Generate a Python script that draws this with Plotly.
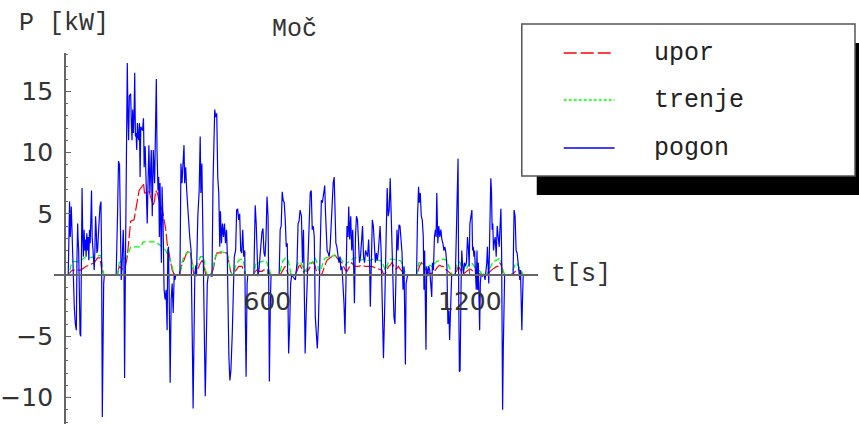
import plotly.graph_objects as go

# ---------------- data (t in s, P in kW) ----------------
pogon_t = [
    0, 10, 14, 16, 19, 22, 24, 26, 28, 31,
    34, 36, 38, 39, 41, 43, 45, 47, 49, 51,
    53, 55, 57, 59, 61, 63, 65, 67, 69, 71,
    73, 75, 77, 79, 81, 84, 87, 89, 91, 93,
    95, 97, 99, 102, 104, 107, 109, 111, 113, 115,
    117, 152, 156, 159, 162, 164, 167, 169, 171, 173,
    175, 177, 179, 181, 183, 185, 187, 189, 191, 193,
    195, 197, 199, 201, 203, 205, 207, 209, 211, 213,
    215, 217, 219, 221, 223,
    225, 230, 233, 235, 238, 241, 244, 246, 249, 252,
    256, 259, 262, 266, 269, 271, 273, 276, 278, 280,
    282, 286, 288, 291, 294, 297, 300, 303, 305, 307,
    309, 312, 315, 318, 321, 324, 326, 329, 341, 344,
    347, 350, 353, 355, 358, 361, 364, 367, 370, 374,
    376, 378, 380, 382, 385, 388, 390, 394, 398, 401,
    403, 406, 409, 411, 414, 416, 419, 422, 425, 436,
    439, 442, 444, 447, 450, 453, 456, 459,
    461, 464, 467, 470, 473, 476, 479, 481, 483, 486,
    489, 492, 496, 498, 502, 506, 509, 512, 515, 518,
    521, 524, 527, 530, 533, 535, 537, 540, 542, 560,
    563, 564, 567, 570, 572, 575, 578, 581, 584, 587,
    590, 593, 596, 599, 602, 604, 606, 609, 611, 635,
    638, 641, 644, 647, 650, 653, 656, 659, 661, 663,
    666, 669, 672, 683, 688, 691, 694, 697,
    701, 704, 707, 709, 712, 715, 718, 721, 724, 727,
    730, 733, 736, 739, 742, 745, 748, 751, 754, 757,
    760, 763, 767, 770, 772, 774, 777, 780, 783, 786,
    789, 792, 795, 798, 800, 803, 806, 809, 812, 815,
    818, 821, 824, 827, 830, 833, 836, 839, 841, 844,
    847, 850, 853, 856, 858, 861, 864, 867, 870, 873,
    876, 879, 882, 885, 888, 891, 894, 897, 900, 903,
    905, 908, 911, 914, 917, 920, 923, 926, 929, 932,
    934, 937, 939, 942, 944, 947, 950, 953, 955, 958,
    961, 964, 967, 970, 972, 975, 978, 981, 984, 987,
    990, 993, 996, 999, 1002, 1005, 1007, 1009, 1011, 1015,
    1019, 1042, 1045, 1048, 1050, 1053, 1056, 1059, 1062, 1064,
    1066, 1068, 1070, 1072, 1075, 1078, 1081, 1084, 1087, 1089,
    1092, 1095, 1098, 1100, 1102, 1105, 1108, 1111, 1114, 1117,
    1120, 1123, 1126, 1129, 1132, 1135, 1138, 1140, 1143, 1146,
    1149, 1157, 1160, 1163, 1165, 1167, 1169,
    1171, 1174, 1176, 1178, 1181, 1184, 1187, 1190, 1193, 1196,
    1198, 1200, 1203, 1206, 1208, 1210, 1212, 1214, 1217, 1219,
    1221, 1223, 1225, 1227, 1229, 1231, 1233, 1238, 1242, 1245,
    1247, 1250, 1252, 1254, 1256, 1258, 1260, 1262, 1264, 1266,
    1268, 1270, 1272, 1275, 1278, 1281, 1284, 1287, 1289, 1292,
    1294, 1296, 1297, 1299, 1301, 1303, 1328, 1331, 1334, 1337,
    1340, 1343, 1346, 1348, 1350, 1352, 1354, 1356, 1358,
]
pogon_p = [
    0, 0, 6.0, 3.1, 5.6, 3.1, -0.1, -0.4, -2.6, -4.0,
    -4.5, 1.5, 4.2, 3.1, 2.0, -3.4, -4.8, -5.0, -0.7, 7.1,
    3.1, 1.5, 3.7, 2.0, 2.9, 1.5, 3.4, 2.0, 3.1, 1.2,
    3.7, 2.6, 4.5, 6.9, 3.1, 2.0, 0.4, 2.0, 4.8, 3.7,
    1.8, 2.0, 3.1, 5.0, 5.6, 6.0, 1.0, -11.6, -4.8, -0.7,
    0, 0, 4.8, 9.3, 9.0, 2.6, -0.4, 0.4, 3.1, 3.7,
    1.5, -8.4, -0.7, 6.1, 12.1, 17.3, 12.9, 11.0, 14.6, 14.7,
    14.8, 12.4, 11.0, 13.5, 11.6, 12.9, 16.5, 11.3, 11.6, 10.2,
    12.4, 11.3, 11.0, 12.4, 8.0,
    12.1, 11.8, 12.8, 8.8, 10.5, 8.0, 4.2, 6.9, 10.6, 6.7,
    10.2, 4.8, 10.2, 7.5, 13.7, 16.0, 10.2, 6.9, 8.0, 3.1,
    7.5, 1.0, 7.2, 4.2, -1.2, -2.0, -1.2, -4.5, 2.0, 2.3,
    -1.2, -8.8, -2.0, -0.7, -3.1, 0.1, -0.4, 0, 0, 9.1,
    7.5, 9.7, 10.6, 7.5, 8.8, 6.9, 5.3, 4.8, 3.1, 2.0,
    -0.7, -6.1, -10.9, -7.2, 0, 0.8, -0.1, 4.8, 6.9, 11.3,
    6.7, 9.1, 3.1, -0.7, -3.4, -9.9, -5.6, -0.7, 0, -0.1,
    7.5, 10.2, 13.5, 12.9, 13.2, 8.0, 6.7, 2.3,
    5.2, 2.6, 4.2, 3.1, 4.2, 2.6, 3.7, 2.0, -2.3, -6.7,
    -8.6, -7.8, -4.8, -2.0, 1.5, 2.0, 5.3, 5.4, 4.5, 5.0,
    2.0, 1.8, 3.7, 1.5, 2.0, -4.0, -8.3, -0.7, 0, 0,
    3.1, 5.7, 4.2, 1.5, -0.1, 0.4, 1.5, 2.9, 3.5, 3.8,
    1.8, 1.5, 3.1, 6.4, 4.8, -0.7, -8.7, -2.0, 0, 0,
    3.7, 4.0, 6.8, 6.1, 5.9, 4.5, 2.3, 2.6, -0.7, -6.4,
    -4.2, -0.7, 0, -0.4, 1.0, 4.2, 4.4, 5.3,
    4.8, 1.0, 3.7, 0.4, -6.4, -3.1, -0.4, 0.7, 3.1, 6.7,
    6.9, 3.7, 4.0, 3.1, -3.4, -5.3, -6.0, -4.2, -1.2, 2.0,
    6.1, 5.9, 6.7, 7.3, 5.3, 3.7, 2.0, 1.8, 1.5, 2.3,
    4.0, 6.7, 7.5, 8.0, 5.0, 2.6, 2.3, 1.5, 1.0, 1.5,
    0.4, 0.7, -0.4, -2.3, -4.8, 1.0, 4.0, 3.1, 5.6, 2.9,
    4.8, 2.0, 3.7, 0.4, -2.3, 3.1, 4.8, 4.5, 3.1, 1.0,
    1.5, 2.9, 4.0, 1.5, 1.0, 2.0, 1.8, 1.5, 2.9, 1.0,
    -2.6, 2.0, 4.5, 4.0, 2.0, 1.0, 1.8, 1.2, 2.0, 3.5,
    4.0, 2.0, -0.7, -6.1, -6.8, -3.4, 1.5, 6.4, 7.1, 4.8,
    5.3, 7.9, 4.8, 1.2, -0.7, -3.4, -4.0, 1.5, 3.7, 2.0,
    4.1, 4.0, 2.6, 1.8, -1.2, 0.7, -3.4, -7.3, -0.7, -0.1,
    0, 0, 4.8, 7.2, 5.9, 6.7, 4.8, 4.5, 3.1, -1.2,
    2.0, -0.7, -6.1, 0.7, -0.1, 0.7, 0.4, -0.7, -1.8, 1.0,
    0.4, 3.1, 3.7, 3.1, 6.7, 2.6, 4.0, 3.1, 3.7, 2.9,
    2.6, 2.0, 2.3, 1.8, 0.7, -4.0, -2.9, -5.3, -1.2, -0.1,
    0, 0, 3.4, 6.9, 9.5, -2.0, -7.9,
    -7.8, -0.7, 2.0, 1.0, 0.1, 1.0, 0.7, 1.0, 3.1, 2.0,
    0.7, 4.2, 5.0, 5.3, 2.0, 2.3, 1.5, 2.0, -0.1, -1.2,
    2.0, -1.2, 1.0, -2.9, -4.5, -0.7, 0, -0.1, 0.1, -0.4,
    0.1, 1.0, 2.3, 1.0, -0.7, 2.0, 5.3, 7.9, 6.9, 3.7,
    4.2, 2.0, 2.6, 3.1, 1.5, 4.0, 3.1, 2.3, 3.7, 5.4,
    2.0, -3.4, -11.0, -6.1, -0.7, 0, 0, 5.3, 4.8, 2.0,
    1.8, 1.0, -0.1, -0.4, 0.4, -1.2, -4.5, -2.0, 0,
]

upor_t = [
    0, 10, 18, 23, 47, 52, 62, 72, 87, 97,
    104, 111, 116, 156, 161, 170, 178, 185, 190, 195,
    205, 210, 215, 220, 225, 228, 233, 236, 244, 249,
    254, 259, 262, 266, 269, 274, 279, 284, 289, 294,
    299, 303, 308, 313, 318, 323, 328, 338, 343, 348,
    353, 358, 363, 372, 377, 382, 387, 392, 397, 402,
    407, 412, 417, 422, 431, 439, 443, 447, 451, 456,
    481, 486, 491, 496, 500, 505, 510, 515, 525, 530,
    535, 560, 564, 569, 574, 584, 589, 599, 604, 609,
    638, 643, 648, 653, 658, 663, 683, 688, 693, 697,
    703, 708, 712, 717, 722, 727, 732, 737, 742, 747,
    752, 757, 762, 767, 772, 776, 786, 791, 796, 801,
    806, 811, 816, 821, 826, 831, 836, 840, 845, 850,
    855, 860, 870, 880, 890, 900, 909, 919, 929, 934,
    939, 944, 949, 954, 959, 964, 969, 973, 978, 983,
    988, 993, 998, 1003, 1008, 1042, 1047, 1052, 1057, 1062,
    1067, 1072, 1077, 1082, 1092, 1097, 1102, 1106, 1111, 1116,
    1121, 1126, 1131, 1136, 1141, 1146, 1156, 1161, 1166, 1171,
    1176, 1181, 1185, 1190, 1195, 1200, 1205, 1210, 1215, 1220,
    1225, 1230, 1235, 1249, 1254, 1259, 1264, 1269, 1274, 1279,
    1284, 1289, 1294, 1299, 1304, 1323, 1328, 1333, 1338, 1343,
    1348, 1353, 1358,
]
upor_p = [
    0, 0, 0.3, 0.4, 0.4, 0.5, 0.7, 0.8, 1.0, 1.4,
    1.4, 0.1, 0, 0, 0.7, 0.5, 0.5, 1.5, 2.9, 4.4,
    4.5, 5.3, 6.1, 6.9, 7.1, 7.2, 7.5, 6.7, 6.7, 6.9,
    6.4, 5.9, 5.7, 6.1, 6.9, 6.7, 6.1, 5.6, 5.3, 4.5,
    3.7, 2.6, 1.8, 1.0, 0.4, 0.1, 0, 0, 0.4, 1.0,
    1.2, 1.6, 1.9, 1.9, 1.0, 0.1, 0, 0.4, 0.7, 1.0,
    1.2, 0.7, 0.1, 0, 0, 0.4, 1.0, 1.5, 1.8, 1.8,
    1.8, 1.0, 0.3, 0, 0, 0.3, 0.5, 0.7, 0.7, 0.4,
    0, 0, 0.3, 0.4, 0.3, 0.3, 0.4, 0.5, 0.3, 0,
    0, 0.3, 0.5, 0.7, 0.4, 0, 0, 0.4, 0.7, 0.8,
    0.4, 0.2, 0.4, 0.3, 0.4, 0.7, 1.0, 1.0, 0.7, 0.1,
    0, 0, 0.1, 0.5, 1.0, 1.2, 1.4, 1.5, 1.7, 1.6,
    1.4, 1.2, 1.1, 1.0, 0.7, 0.4, 0.3, 0.5, 0.8, 1.0,
    0.8, 0.7, 0.7, 0.8, 0.7, 0.7, 0.7, 0.6, 0.5, 0.5,
    0.4, 0.1, 0.1, 0.4, 0.7, 0.8, 1.0, 0.8, 0.5, 0.5,
    0.7, 0.5, 0.3, 0.1, 0, 0, 0.4, 0.8, 1.0, 0.7,
    0.5, 0.3, 0.2, 0.1, 0.2, 0.4, 0.5, 0.7, 0.8, 0.7,
    0.7, 0.5, 0.4, 0.3, 0.1, 0, 0, 0.4, 0.7, 0.5,
    0.2, 0.1, 0.2, 0.3, 0.4, 0.5, 0.4, 0.3, 0.2, 0.1,
    0.1, 0.1, 0, 0, 0.1, 0.3, 0.4, 0.5, 0.6, 0.7,
    0.7, 1.0, 0.7, 0.1, 0, 0, 0.1, 0.3, 0.4, 0.5,
    0.3, 0.1, 0,
]

trenje_t = [
    0, 13, 18, 23, 36, 42, 49, 57, 72, 87,
    97, 106, 111, 116, 156, 161, 170, 180, 185, 190,
    195, 205, 215, 225, 232, 244, 254, 269, 279, 289,
    299, 308, 315, 321, 325, 338, 343, 348, 353, 358,
    367, 372, 377, 382, 385, 390, 397, 402, 407, 412,
    417, 422, 433, 441, 447, 453, 461, 481, 486, 491,
    496, 500, 505, 510, 515, 525, 530, 535, 538, 560,
    562, 566, 574, 584, 594, 599, 607, 611, 638, 640,
    645, 653, 661, 666, 670, 683, 686, 691, 697, 703,
    708, 712, 717, 722, 727, 732, 737, 742, 747, 752,
    757, 762, 767, 772, 791, 796, 806, 816, 826, 831,
    836, 845, 855, 865, 875, 885, 895, 904, 914, 924,
    934, 939, 944, 949, 954, 959, 964, 973, 983, 993,
    998, 1003, 1008, 1013, 1042, 1044, 1049, 1054, 1062, 1067,
    1072, 1077, 1082, 1087, 1092, 1097, 1102, 1111, 1121, 1131,
    1136, 1141, 1146, 1151, 1156, 1161, 1166, 1171, 1176, 1181,
    1185, 1190, 1195, 1200, 1205, 1210, 1215, 1220, 1225, 1230,
    1235, 1240, 1249, 1254, 1259, 1264, 1269, 1279, 1289, 1294,
    1299, 1304, 1323, 1328, 1333, 1338, 1343, 1348, 1353, 1358,
]
trenje_p = [
    0, 0, 0.8, 1.1, 1.1, 1.1, 1.2, 1.4, 1.4, 1.5,
    1.6, 1.6, 0.7, 0, 0, 1.0, 1.2, 1.5, 1.6, 1.9,
    2.3, 2.3, 2.3, 2.3, 2.7, 2.7, 2.7, 2.7, 2.5, 2.3,
    2.0, 1.5, 1.0, 0.3, 0, 0, 0.4, 1.1, 1.5, 1.7,
    1.9, 1.8, 1.2, 0.4, 0, 0.7, 1.2, 1.5, 1.5, 1.4,
    0.4, 0, 0, 1.0, 1.6, 1.8, 1.9, 1.8, 1.0, 0.3,
    0, 0, 0.7, 1.0, 1.2, 1.3, 1.0, 0.1, 0, 0,
    0.5, 1.0, 1.0, 1.1, 1.2, 1.0, 0.3, 0, 0, 0.5,
    1.1, 1.4, 1.2, 0.7, 0, 0, 0.4, 1.0, 1.1, 0.7,
    0.5, 0.3, 0.5, 0.8, 1.0, 1.0, 1.2, 1.4, 1.0, 0.4,
    0.3, 0.7, 1.2, 1.4, 1.5, 1.6, 1.5, 1.4, 1.0, 0.8,
    1.0, 1.1, 1.4, 1.4, 1.2, 1.3, 1.2, 1.2, 1.3, 1.2,
    1.2, 1.1, 0.8, 0.4, 0.7, 1.1, 1.3, 1.3, 1.2, 1.2,
    1.0, 0.7, 0.2, 0, 0, 0.4, 1.0, 1.0, 1.0, 0.7,
    0.5, 0.7, 0.8, 0.7, 0.7, 1.0, 1.1, 1.2, 1.3, 1.2,
    0.8, 0.4, 0.1, 0, 0.1, 0.8, 1.1, 1.0, 0.5, 0.4,
    0.7, 0.5, 0.8, 1.0, 1.0, 0.8, 0.7, 0.5, 0.4, 0.3,
    0.1, 0, 0, 0.3, 0.5, 0.8, 1.1, 1.2, 1.4, 1.0,
    0.3, 0, 0, 0.4, 0.8, 1.0, 0.8, 0.5, 0.3, 0,
]

series_names = ["upor", "trenje", "pogon"]
series_colors = ["#ff0000", "#00ff00", "#0000ff"]
y_tickvals = [-10, -5, 5, 10, 15]
x_tickvals = [600, 1200]

assert len(pogon_t) == len(pogon_p)
assert len(upor_t) == len(upor_p)
assert len(trenje_t) == len(trenje_p)

# ---------------- layout geometry (pixels) ----------------
W, H = 859, 424
X0_PX, SX = 63.0, 0.3383       # t=0 pixel, px per second
Y0_PX, SY = 275.0, 12.25       # P=0 pixel, px per kW
XL, XR = 52.0, 537.0           # x-axis line extent
YT, YB = 53.0, 424.0           # y-axis line extent

def px(x):
    return x / W

def py(y):
    return 1 - y / H

x_range = [(XL - X0_PX) / SX, (XR - X0_PX) / SX]
y_range = [(Y0_PX - YB) / SY, (Y0_PX - YT) / SY]

MONO = "Liberation Mono, Courier New, monospace"
SANS = "DejaVu Sans, sans-serif"
AX = "#666666"
TXT = "#333333"

fig = go.Figure()
fig.add_trace(go.Scatter(x=upor_t, y=upor_p, mode="lines", name=series_names[0],
                         line=dict(color=series_colors[0], width=1.2, dash="12px,3px"),
                         hoverinfo="skip", showlegend=False))
fig.add_trace(go.Scatter(x=trenje_t, y=trenje_p, mode="lines", name=series_names[1],
                         line=dict(color=series_colors[1], width=1.3, dash="6px,3px"),
                         hoverinfo="skip", showlegend=False))
fig.add_trace(go.Scatter(x=pogon_t, y=pogon_p, mode="lines", name=series_names[2],
                         line=dict(color=series_colors[2], width=1.2),
                         hoverinfo="skip", showlegend=False))

fig.update_layout(
    width=W, height=H,
    margin=dict(l=0, r=0, t=0, b=0),
    paper_bgcolor="white", plot_bgcolor="white",
    showlegend=False,
    xaxis=dict(
        domain=[px(XL), px(XR)], range=x_range,
        anchor="free", position=py(Y0_PX),
        showline=True, linecolor=AX, linewidth=1.5,
        showgrid=False, zeroline=False,
        tickmode="array", tickvals=x_tickvals,
        ticks="inside", ticklen=4, tickcolor=AX, tickwidth=1,
        tickfont=dict(family=SANS, size=25, color=TXT),
        ticklabelstandoff=4,
    ),
    yaxis=dict(
        domain=[py(YB), py(YT)], range=y_range,
        anchor="free", position=px(X0_PX),
        showline=True, linecolor=AX, linewidth=1.5,
        showgrid=False, zeroline=False,
        tickmode="array", tickvals=y_tickvals,
        ticks="inside", ticklen=5, tickcolor=AX, tickwidth=1,
        tickfont=dict(family=SANS, size=25, color=TXT),
        ticklabelstandoff=6,
        minor=dict(tickmode="linear", tick0=0, dtick=1, ticks="inside",
                   ticklen=2.5, tickcolor=AX, tickwidth=1, showgrid=False),
    ),
)

# ---------------- legend (drawn manually, Mathematica style) ----------------
LX0, LY0, LX1, LY1 = 521, 24, 855, 176
SHX, SHY = 15, 19
shapes = [
    dict(type="rect", xref="paper", yref="paper",
         x0=px(LX0 + SHX), x1=px(LX1 + SHX), y0=py(LY1 + SHY), y1=py(LY0 + SHY),
         fillcolor="black", line=dict(width=0), layer="above"),
    dict(type="rect", xref="paper", yref="paper",
         x0=px(LX0), x1=px(LX1), y0=py(LY1), y1=py(LY0),
         fillcolor="white", line=dict(color="#555555", width=1.5), layer="above"),
]
row_y = [53, 100, 148]
text_y = [53, 101, 149]
dashes = ["13px,4px", "3px,2px", "solid"]
for i in range(3):
    shapes.append(dict(type="line", xref="paper", yref="paper",
                       x0=px(563), x1=px(614), y0=py(row_y[i]), y1=py(row_y[i]),
                       line=dict(color=series_colors[i], width=1.3, dash=dashes[i]),
                       layer="above"))
fig.update_layout(shapes=shapes)

annotations = []
for i in range(3):
    annotations.append(dict(xref="paper", yref="paper", x=px(652), y=py(text_y[i]),
                            xanchor="left", yanchor="middle", showarrow=False,
                            text=series_names[i],
                            font=dict(family=MONO, size=25, color="#222222")))
annotations += [
    dict(xref="paper", yref="paper", x=px(15), y=py(24), xanchor="left", yanchor="middle",
         showarrow=False, text="P [kW]", font=dict(family=MONO, size=25, color=TXT)),
    dict(xref="paper", yref="paper", x=px(269), y=py(29), xanchor="left", yanchor="middle",
         showarrow=False, text="Moč", font=dict(family=MONO, size=25, color=TXT)),
    dict(xref="paper", yref="paper", x=px(548), y=py(274), xanchor="left", yanchor="middle",
         showarrow=False, text="t[s]", font=dict(family=MONO, size=25, color=TXT)),
]
fig.update_layout(annotations=annotations)

fig.write_html("out.html")
